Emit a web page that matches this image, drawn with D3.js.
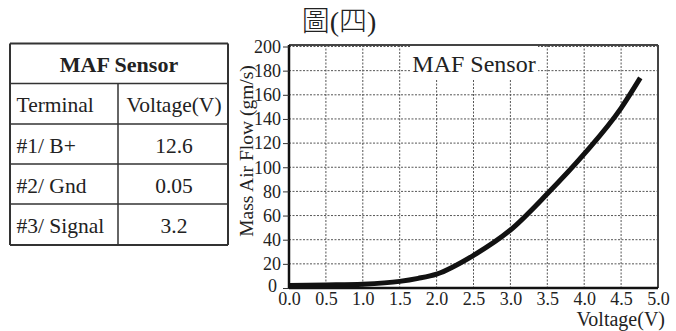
<!DOCTYPE html>
<html>
<head>
<meta charset="utf-8">
<script src="https://cdn.jsdelivr.net/npm/d3@7"></script>
<style>
  body { margin: 0; background: #fff; }
  svg { display: block; }
</style>
</head>
<body>
<svg id="chart" width="676" height="331"></svg>
<script>
// curve
const voltage = [0, 0.5, 1.0, 1.5, 1.75, 2.0, 2.5, 3.0, 3.5, 4.0, 4.5, 4.76];
const flow = [2, 2.5, 3.2, 5.5, 8, 11.5, 27, 48, 78, 111, 149, 174];

const xTicks = [0, 0.5, 1.0, 1.5, 2.0, 2.5, 3.0, 3.5, 4.0, 4.5, 5.0];
const yTicks = [0, 20, 40, 60, 80, 100, 120, 140, 160, 180, 200];

const tableTitle = "MAF Sensor";
const tableHeader = ["Terminal", "Voltage(V)"];
const terminals = ["#1/ B+", "#2/ Gnd", "#3/ Signal"];
const readings = ["12.6", "0.05", "3.2"];

const serif = "'Liberation Serif', 'Times New Roman', serif";
const svg = d3.select("#chart");
const ink = "#222";

// title
svg.append("text")
  .attr("x", 339).attr("y", 31)
  .attr("text-anchor", "middle")
  .style("font-size", "28px")
  .style("font-family", "'Liberation Serif', 'Noto Sans CJK TC', serif")
  .style("font-weight", "300")
  .attr("fill", ink)
  .text("圖(四)");

// ---- table ----
const tb = { x0: 10, x1: 228, xm: 118, rows: [43.5, 83.5, 124, 164, 204, 245] };
const t = svg.append("g");
tb.rows.forEach((ry, i) => {
  t.append("line").attr("x1", tb.x0).attr("x2", tb.x1).attr("y1", ry).attr("y2", ry)
    .attr("stroke", "#333").attr("stroke-width", (i === 0 || i === tb.rows.length - 1) ? 2 : 1.5);
});
t.append("line").attr("x1", tb.x0).attr("x2", tb.x0).attr("y1", tb.rows[0]).attr("y2", tb.rows[5])
  .attr("stroke", "#333").attr("stroke-width", 2);
t.append("line").attr("x1", tb.x1).attr("x2", tb.x1).attr("y1", tb.rows[0]).attr("y2", tb.rows[5])
  .attr("stroke", "#333").attr("stroke-width", 2);
t.append("line").attr("x1", tb.xm).attr("x2", tb.xm).attr("y1", tb.rows[1]).attr("y2", tb.rows[5])
  .attr("stroke", "#333").attr("stroke-width", 1.5);

t.append("text").attr("x", (tb.x0 + tb.x1) / 2).attr("y", 71.5)
  .attr("text-anchor", "middle").style("font-family", serif)
  .style("font-size", "22px").style("font-weight", "bold")
  .attr("fill", ink).text(tableTitle);

const firstCol = [tableHeader[0]].concat(terminals);
const secondCol = [tableHeader[1]].concat(readings);
firstCol.forEach((s, i) => {
  t.append("text").attr("x", 16.5).attr("y", tb.rows[i + 1] + 28.5)
    .style("font-family", serif).style("font-size", "21.5px").attr("fill", ink).text(s);
});
secondCol.forEach((s, i) => {
  t.append("text").attr("x", (tb.xm + tb.x1) / 2 + 1).attr("y", tb.rows[i + 1] + 28.5)
    .attr("text-anchor", "middle").style("font-family", serif)
    .style("font-size", "21.5px").attr("fill", ink).text(s);
});

// ---- chart ----
const pLeft = 289, pRight = 658, pTop = 45, pBottom = 288;

const x = d3.scaleLinear().domain([0, 5]).range([pLeft, pRight]);
const y = d3.scaleLinear().domain([0, 200]).range([pBottom, 46.5]);

const grid = svg.append("g").attr("stroke", "#555").attr("stroke-width", 1)
  .attr("stroke-dasharray", "2,1.5");
grid.selectAll(".gx").data(xTicks.slice(1, -1)).enter().append("line")
  .attr("x1", d => x(d)).attr("x2", d => x(d)).attr("y1", pTop).attr("y2", pBottom);
grid.selectAll(".gy").data(yTicks.slice(1)).enter().append("line")
  .attr("x1", pLeft).attr("x2", pRight).attr("y1", d => y(d)).attr("y2", d => y(d));

// frame
svg.append("line").attr("x1", pLeft).attr("x2", pRight).attr("y1", pTop).attr("y2", pTop)
  .attr("stroke", "#444").attr("stroke-width", 2);
svg.append("line").attr("x1", pRight).attr("x2", pRight).attr("y1", pTop).attr("y2", pBottom)
  .attr("stroke", "#444").attr("stroke-width", 2);

// inner label box
svg.append("rect").attr("x", 410).attr("y", 46).attr("width", 128).attr("height", 34)
  .attr("fill", "#fff");
svg.append("text").attr("x", 474).attr("y", 71.5).attr("text-anchor", "middle")
  .style("font-family", serif).style("font-size", "24px").attr("fill", ink).text("MAF Sensor");

// curve
const pts = voltage.map((v, i) => [v, flow[i]]);
const line = d3.line().x(d => x(d[0])).y(d => y(d[1])).curve(d3.curveMonotoneX);
svg.append("path").datum(pts).attr("d", line)
  .attr("fill", "none").attr("stroke", "#111").attr("stroke-width", 5);

// axes
const xAxis = svg.append("g").attr("transform", `translate(0,${pBottom})`)
  .call(d3.axisBottom(x).tickValues(xTicks).tickFormat(d3.format(".1f")).tickSize(0).tickPadding(4));
const yAxis = svg.append("g").attr("transform", `translate(${pLeft},0)`)
  .call(d3.axisLeft(y).tickValues(yTicks).tickSize(6).tickPadding(2));

[xAxis, yAxis].forEach(a => {
  a.select(".domain").attr("stroke", "#111").attr("stroke-width", 2.5);
  a.selectAll("text").style("font-size", "18px").style("font-family", serif)
    .attr("fill", ink);
  a.selectAll(".tick line").attr("stroke", "#333").attr("stroke-width", 1);
});
xAxis.select(".domain").attr("d", `M${pLeft},0H${pRight}`);
yAxis.select(".domain").attr("d", `M0,${pTop}V${pBottom + 1}`);
// the zero label sits a bit left, clear of "0.0"
yAxis.selectAll(".tick").filter(d => d === 0).select("text").attr("x", -12).attr("dy", "0.2em");

// axis titles
svg.append("text").attr("x", 665).attr("y", 326).attr("text-anchor", "end")
  .style("font-family", serif).style("font-size", "20px").attr("fill", ink).text("Voltage(V)");
svg.append("text").attr("transform", "translate(253,151) rotate(-90)")
  .attr("text-anchor", "middle").style("font-family", serif)
  .style("font-size", "19.5px").attr("fill", ink)
  .text("Mass Air Flow (gm/s)");
</script>
</body>
</html>
